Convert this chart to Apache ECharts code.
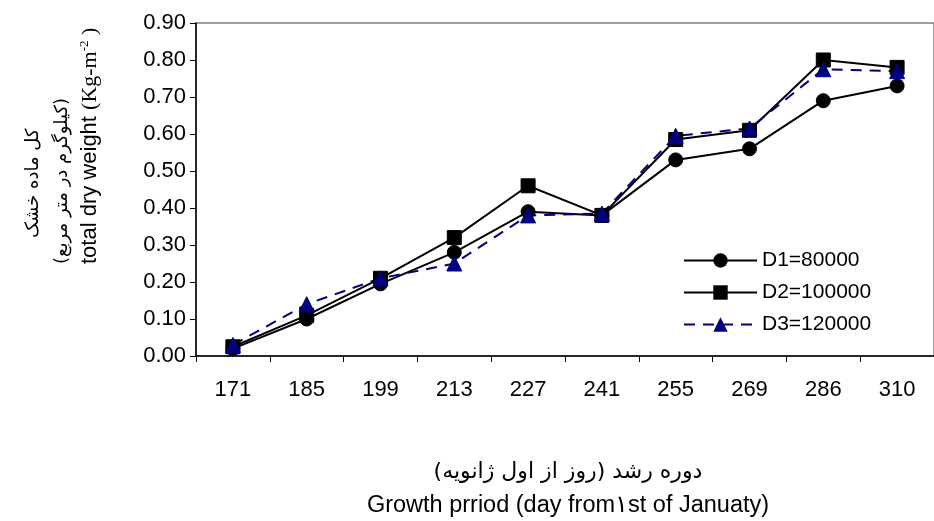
<!DOCTYPE html>
<html>
<head>
<meta charset="utf-8">
<script src="https://cdn.jsdelivr.net/npm/echarts@6/dist/echarts.min.js"></script>
<style>
html,body{margin:0;padding:0;background:#fff;}
#chart{width:934px;height:521px;}
</style>
</head>
<body>
<div id="chart"></div>
<script>
const categories = ['171','185','199','213','227','241','255','269','286','310'];
const d1 = [0.02,0.10,0.195,0.28,0.39,0.38,0.53,0.56,0.69,0.73];
const d2 = [0.025,0.11,0.21,0.32,0.46,0.38,0.585,0.61,0.80,0.78];
const d3 = [0.03,0.14,0.21,0.25,0.38,0.385,0.595,0.615,0.775,0.77];
const seriesNames = ['D1=80000','D2=100000','D3=120000'];
const yTitle1 = 'کل ماده خشک';
const yTitle2 = '\u200F(کیلوگرم در متر مربع)\u200F';
const yTitle3a = 'total dry weight ';
const yTitle3b = '(Kg-m';
const yTitle3sup = '-2';
const yTitle3c = ' )';
const xTitle1 = '\u200Fدوره رشد (روز از اول ژانویه)\u200F';
const xTitle2 = 'Growth prriod (day from۱st of Januaty)';

const chart = echarts.init(document.getElementById('chart'), null, {renderer:'canvas'});
const fam = 'Liberation Sans, Arial, sans-serif';
const lineSeries = (name, data, symbol, color, type, size) => ({
  name, type:'line', data, symbol, symbolSize:size,
  lineStyle:{color, width:2, type},
  itemStyle:{color, borderColor:color},
  emphasis:{disabled:true},
  animation:false
});
chart.setOption({
  animation:false,
  grid:{left:196, top:23, width:748, height:333, show:true, borderColor:'#808080', borderWidth:1.5},
  legend:{
    orient:'vertical', left:678, top:245,
    itemWidth:73, itemHeight:18, itemGap:11,
    textStyle:{fontFamily:fam, fontSize:21, color:'#000', lineHeight:19},
    data:seriesNames
  },
  xAxis:{
    type:'category', data:categories, boundaryGap:true,
    axisLine:{lineStyle:{color:'#000', width:1.5}},
    axisTick:{show:true, length:6, inside:false, lineStyle:{color:'#000', width:1}},
    axisLabel:{fontFamily:fam, fontSize:22, color:'#000', margin:23},
    splitLine:{show:false}
  },
  yAxis:{
    type:'value', min:0, max:0.9, interval:0.1,
    axisLine:{show:true, lineStyle:{color:'#000', width:1.5}},
    axisTick:{show:true, length:6, lineStyle:{color:'#000', width:1}},
    axisLabel:{fontFamily:fam, fontSize:22, color:'#000', margin:10, formatter:v=>v.toFixed(2)},
    splitLine:{show:false}
  },
  series:[
    lineSeries(seriesNames[0], d1, 'circle', '#000', 'solid', 14),
    lineSeries(seriesNames[1], d2, 'rect', '#000', 'solid', 14),
    lineSeries(seriesNames[2], d3, 'triangle', '#000080', [11,8], 15)
  ],
  graphic:[
    {type:'text', x:33, y:238, rotation:Math.PI/2,
     style:{text:yTitle1, font:'18px "DejaVu Sans"', fill:'#000', align:'left', verticalAlign:'middle'}},
    {type:'text', x:62, y:264, rotation:Math.PI/2,
     style:{text:yTitle2, font:'18px "DejaVu Sans"', fill:'#000', align:'left', verticalAlign:'middle'}},
    {type:'text', x:90, y:264, rotation:Math.PI/2,
     style:{
       text:'{a|'+yTitle3a+'}{b|'+yTitle3b+'}{s|'+yTitle3sup+'}{b|'+yTitle3c+'}',
       align:'left', verticalAlign:'middle',
       rich:{
         a:{fontFamily:fam, fontSize:22, fill:'#000'},
         b:{fontFamily:'Liberation Serif, serif', fontSize:22, fill:'#000'},
         s:{fontFamily:'Liberation Serif, serif', fontSize:13, fill:'#000', verticalAlign:'top', padding:[0,0,11,0]}
       }
     }},
    {type:'text', x:568, y:472,
     style:{text:xTitle1, font:'22px "DejaVu Sans"', fill:'#000', align:'center', verticalAlign:'middle'}},
    {type:'text', x:568, y:506,
     style:{text:xTitle2, font:'23.5px "Liberation Sans"', fill:'#000', align:'center', verticalAlign:'middle'}}
  ]
});
</script>
</body>
</html>
